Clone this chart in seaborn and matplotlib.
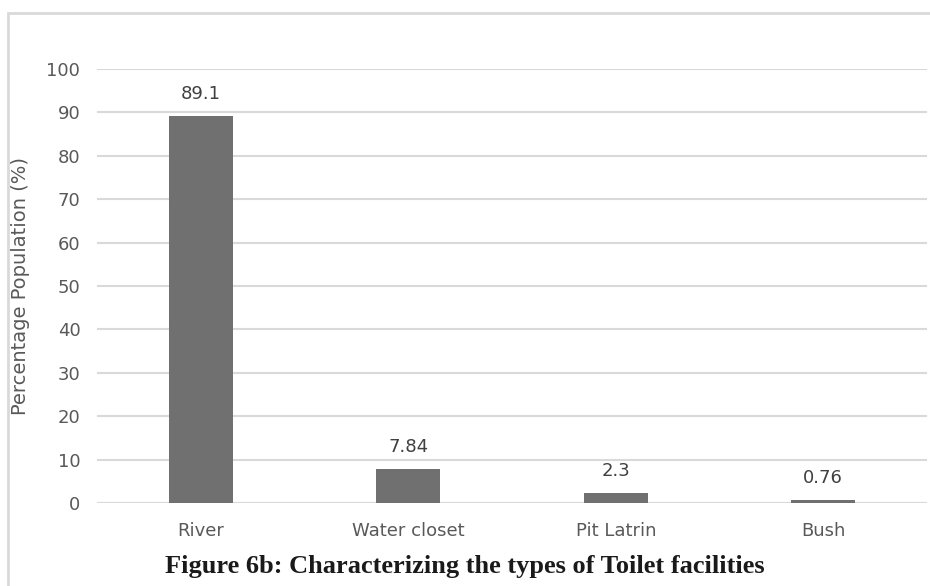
import matplotlib
matplotlib.use('Agg')
import matplotlib.pyplot as plt
import seaborn as sns
import pandas as pd
from matplotlib.patches import Rectangle

# data
facilities = ['River', 'Water closet', 'Pit Latrin', 'Bush']
percent = [89.1, 7.84, 2.3, 0.76]
value_labels = ['89.1', '7.84', '2.3', '0.76']
y_ticks = [0, 10, 20, 30, 40, 50, 60, 70, 80, 90, 100]

df = pd.DataFrame({'facility': facilities, 'percent': percent})

sns.set_style('white')
plt.rcParams['font.family'] = ['DejaVu Sans']

fig = plt.figure(figsize=(9.3, 5.86), dpi=100)
ax = fig.add_axes([0.1043, 0.1416, 0.8925, 0.7407])

sns.barplot(data=df, x='facility', y='percent', color='#707070', saturation=1,
            width=0.31, linewidth=0, ax=ax)

ax.set_ylim(0, 100)
ax.set_yticks(y_ticks)
ax.yaxis.grid(True, color='#d9d9d9', linewidth=1.5)
ax.set_axisbelow(True)
for s in ax.spines.values():
    s.set_visible(False)
ax.axhline(0, color='#d9d9d9', linewidth=1.5, zorder=0)

ax.tick_params(axis='both', length=0, labelsize=13, colors='#595959')
ax.tick_params(axis='x', pad=14)
ax.tick_params(axis='y', pad=12)
ax.set_xlabel('')
ax.set_ylabel('Percentage Population (%)', fontsize=14, color='#595959', labelpad=12)

for i, (v, t) in enumerate(zip(percent, value_labels)):
    ax.text(i, v + 3, t, ha='center', va='bottom', fontsize=13, color='#404040')

# outer frame
fig.patches.append(Rectangle((8 / 930, -0.1), 1.2, 1 - 13 / 586 + 0.1,
                             transform=fig.transFigure, fill=False,
                             edgecolor='#d9d9d9', linewidth=2))

fig.text(0.5, 1 - 566 / 586, 'Figure 6b: Characterizing the types of Toilet facilities',
         ha='center', va='center', fontsize=19, fontweight='bold',
         family='Liberation Serif', color='#1a1a1a')

fig.savefig('out.png', dpi=100)
